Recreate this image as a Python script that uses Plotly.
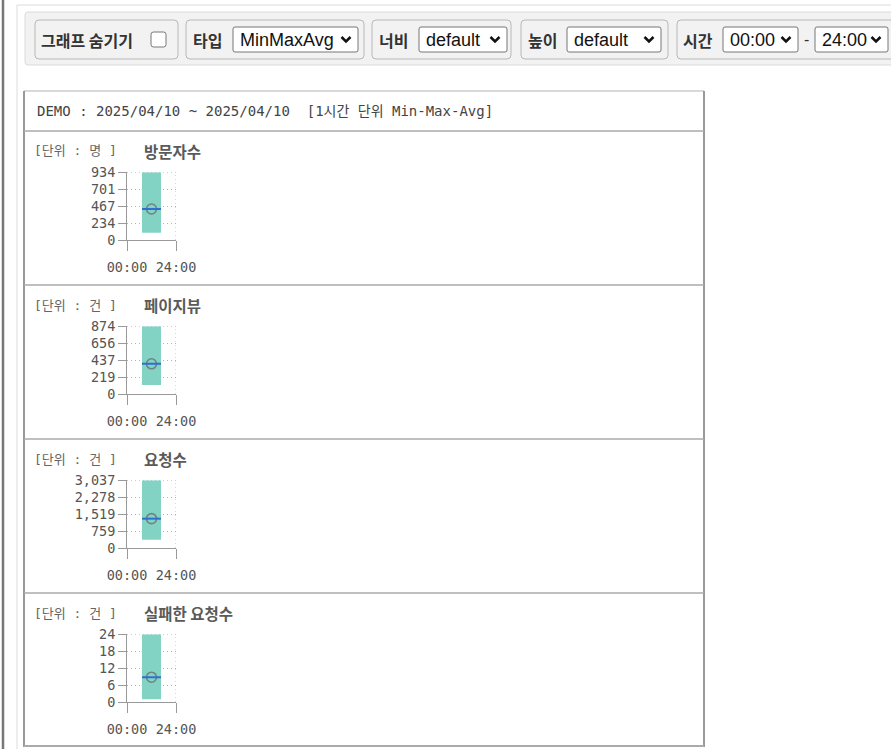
import plotly.graph_objects as go

W, H = 891, 749

# ---- data ----
metrics = ["방문자수", "페이지뷰", "요청수", "실패한 요청수"]
units = ["명", "건", "건", "건"]
max_vals = [934, 874, 3037, 24]
min_vals = [100, 117, 369, 1]
avg_vals = [428, 390, 1316, 8.8]
hour_ticks = [0, 24]
hour_labels = ["00:00", "24:00"]
bar_hour = 12
bar_span = 9.3
header_text = "DEMO : 2025/04/10 ~ 2025/04/10  [1시간 단위 Min-Max-Avg]"

toolbar_labels = ["그래프 숨기기", "타입", "너비", "높이", "시간"]
select_texts = ["MinMaxAvg", "default", "default", "00:00", "24:00"]

MONO = "DejaVu Sans Mono, Noto Sans CJK KR"
KR = "Noto Sans CJK KR, Noto Sans, sans-serif"
SANS = "Liberation Sans, Arial, sans-serif"
GRID = "#b0b0b0"
DOT = "1px,3px"


def X(px):
    return px / W


def Y(py):
    return 1 - py / H


def rrect(x0, y0, x1, y1, r):
    return (f"M {X(x0 + r)},{Y(y0)} L {X(x1 - r)},{Y(y0)} Q {X(x1)},{Y(y0)} {X(x1)},{Y(y0 + r)} "
            f"L {X(x1)},{Y(y1 - r)} Q {X(x1)},{Y(y1)} {X(x1 - r)},{Y(y1)} "
            f"L {X(x0 + r)},{Y(y1)} Q {X(x0)},{Y(y1)} {X(x0)},{Y(y1 - r)} "
            f"L {X(x0)},{Y(y0 + r)} Q {X(x0)},{Y(y0)} {X(x0 + r)},{Y(y0)} Z")


def fmt(v):
    return f"{v:,}"


shapes = []
annotations = []


def line(x0, y0, x1, y1, color, width=1):
    shapes.append(dict(type="line", xref="paper", yref="paper", x0=X(x0), y0=Y(y0), x1=X(x1), y1=Y(y1),
                       line=dict(color=color, width=width), layer="below"))


def box(x0, y0, x1, y1, r, fill, color, width=1):
    shapes.append(dict(type="path", xref="paper", yref="paper", path=rrect(x0, y0, x1, y1, r),
                       fillcolor=fill, line=dict(color=color, width=width), layer="below"))


def text(x, y, s, size, color, family, bold=False, anchor="left"):
    if bold:
        s = f"<b>{s}</b>"
    annotations.append(dict(xref="paper", yref="paper", x=X(x), y=Y(y), text=s, showarrow=False,
                            xanchor=anchor, yanchor="middle", borderpad=0,
                            font=dict(size=size, color=color, family=family)))


def chevron(cx, cy):
    shapes.append(dict(type="path", xref="paper", yref="paper",
                       path=f"M {X(cx - 4.5)},{Y(cy - 2.5)} L {X(cx)},{Y(cy + 2)} L {X(cx + 4.5)},{Y(cy - 2.5)}",
                       line=dict(color="#111", width=2.5), layer="below"))


# ---- page frame lines ----
line(3, 0, 3, H, "#777", 2.5)
line(17, 5, 17, H, "#dcdcdc", 1)
line(17, 5, W + 5, 5, "#dcdcdc", 1)

# ---- toolbar ----
box(25, 12, 905, 65, 3, "#f2f2f2", "#dadada", 1)
groups = [(35, 178), (186, 364), (372, 511), (521, 668), (677, 905)]
label_x = [40, 192, 378, 527, 682]
for (g0, g1), lx, lab in zip(groups, label_x, toolbar_labels):
    box(g0, 20, g1, 59, 4, "#f2f2f2", "#b8b8b8", 1)
    text(lx, 40, lab, 16, "#333", KR, bold=True)

# checkbox
box(151, 32, 166, 47, 2.5, "#ffffff", "#767676", 1)

selects = [(233, 358), (419, 507), (567, 661), (723, 798), (815, 888)]
for (s0, s1), st in zip(selects, select_texts):
    box(s0, 27, s1, 52, 2, "#ffffff", "#767676", 1)
    text(s0 + 6, 40, st, 18, "#111", SANS)
    chevron(s1 - 12, 39.5)
text(806, 40, "-", 16, "#333", SANS, anchor="center")

# ---- main panel ----
P0, P1 = 24, 704
row_tops = [131, 285, 439, 593]
shapes.append(dict(type="rect", xref="paper", yref="paper", x0=X(P0), y0=Y(746), x1=X(P1), y1=Y(91),
                   fillcolor="#ffffff", line=dict(width=0), layer="below"))
line(P0, 91, P1, 91, "#cccccc", 1.5)
line(P0, 91, P0, 747, "#999", 2)
line(P1, 91, P1, 747, "#999", 2)
line(P0, 746, P1, 746, "#aaa", 2)
for rt in row_tops:
    line(P0, rt, P1, rt, "#aaa", 1.5)

text(36, 111, header_text, 14, "#444", MONO)

# ---- charts ----
fig = go.Figure()
layout_axes = {}
for i, (name, unit, mx, mn, av) in enumerate(zip(metrics, units, max_vals, min_vals, avg_vals)):
    rt = row_tops[i]
    n = i + 1
    xa = "x" if n == 1 else f"x{n}"
    ya = "y" if n == 1 else f"y{n}"

    fig.add_trace(go.Bar(x=[bar_hour], y=[mx - mn], base=[mn], width=[bar_span],
                         marker=dict(color="#82d3c4", line=dict(width=0)),
                         xaxis=xa, yaxis=ya, showlegend=False, hoverinfo="skip"))
    fig.add_trace(go.Scatter(x=[bar_hour], y=[av], mode="markers",
                             marker=dict(symbol="circle-open", size=10, color="rgba(110,110,110,0.8)",
                                         line=dict(width=1.6)),
                             xaxis=xa, yaxis=ya, showlegend=False, hoverinfo="skip"))
    fig.add_trace(go.Scatter(x=[bar_hour - bar_span / 2, bar_hour + bar_span / 2], y=[av, av], mode="lines",
                             line=dict(color="#2f6fd3", width=2),
                             xaxis=xa, yaxis=ya, showlegend=False, hoverinfo="skip"))

    # far sides of the plot area (dotted, like the grid)
    shapes.append(dict(type="line", xref=xa, yref=f"{ya} domain", x0=24, x1=24, y0=0, y1=1,
                       line=dict(color=GRID, width=1, dash=DOT), layer="below"))
    shapes.append(dict(type="line", xref=f"{xa} domain", yref=ya, x0=0, x1=1, y0=mx, y1=mx,
                       line=dict(color=GRID, width=1, dash=DOT), layer="below"))

    yticks = [0, int(mx * 0.25 + 0.5), int(mx * 0.5 + 0.5), int(mx * 0.75 + 0.5), mx]
    layout_axes[f"xaxis{'' if n == 1 else n}"] = dict(
        domain=[X(127), X(176)], anchor=ya, range=[0, 24], fixedrange=True,
        tickvals=hour_ticks, ticktext=hour_labels, ticks="outside", ticklen=10, tickcolor="#999",
        showline=True, linecolor="#999", linewidth=1, zeroline=False,
        showgrid=False,
        ticklabelstandoff=5,
        tickfont=dict(family=MONO, size=13.5, color="#555"))
    layout_axes[f"yaxis{'' if n == 1 else n}"] = dict(
        domain=[Y(rt + 109), Y(rt + 41.3)], anchor=xa, range=[0, mx], fixedrange=True,
        tickvals=yticks, ticktext=[fmt(v) for v in yticks], ticks="outside", ticklen=8, tickcolor="#999",
        showline=True, linecolor="#999", linewidth=1, zeroline=False,
        showgrid=True, gridcolor=GRID, griddash=DOT, gridwidth=1,
        tickfont=dict(family=MONO, size=13.5, color="#555"))

    text(33, rt + 20, f"[단위 : {unit} ]", 13, "#666", MONO)
    text(143, rt + 20, name, 15.5, "#5a5a5a", KR, bold=True)

fig.update_layout(
    width=W, height=H, margin=dict(l=0, r=0, t=0, b=0, pad=0, autoexpand=False),
    paper_bgcolor="#ffffff", plot_bgcolor="rgba(0,0,0,0)",
    shapes=shapes, annotations=annotations, showlegend=False,
    font=dict(family=MONO),
    **layout_axes,
)

fig.write_html("out.html", config={"displayModeBar": False},
               post_script="document.body.style.margin='0';document.body.style.overflow='hidden';")
